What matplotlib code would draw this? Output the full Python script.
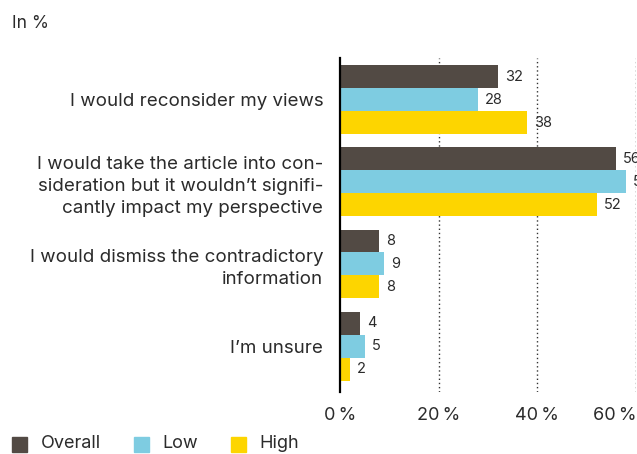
import numpy as np
import matplotlib.pyplot as plt
from matplotlib.patches import Rectangle

plt.rcParams['font.family'] = ['Inter', 'DejaVu Sans']

categories = [
    'I would reconsider my views',
    'I would take the article into con-\nsideration but it wouldn\u2019t signifi-\ncantly impact my perspective',
    'I would dismiss the contradictory\ninformation',
    'I\u2019m unsure',
]
series_names = ['Overall', 'Low', 'High']
overall = [32, 56, 8, 4]
low = [28, 58, 9, 5]
high = [38, 52, 8, 2]
xticks = [0, 20, 40, 60]

colors = ['#524a44', '#7ecce1', '#fdd500']
text_color = '#2b2b2b'

fig = plt.figure(figsize=(6.37, 4.54), dpi=100)
ax = fig.add_axes([340 / 637, 1 - 392 / 454, 296 / 637, (392 - 58) / 454])

y = np.arange(len(categories))
bar_h = 0.28
for i, (vals, c) in enumerate(zip([overall, low, high], colors)):
    ypos = y + (i - 1) * bar_h
    ax.barh(ypos, vals, height=bar_h, color=c, zorder=2)
    for yy, v in zip(ypos, vals):
        ax.text(v + 1.4, yy, str(v), va='center', ha='left', fontsize=10.5,
                color=text_color, clip_on=False)

ax.set_xlim(0, 60)
ax.set_ylim(3.56, -0.51)

for s in ['top', 'right', 'bottom']:
    ax.spines[s].set_visible(False)
ax.spines['left'].set_linewidth(1.6)
ax.spines['left'].set_color('black')
ax.spines['left'].set_zorder(3)

for xv in xticks[1:]:
    ax.axvline(xv, color='#333333', linestyle=(0, (1, 2)), linewidth=1.0, zorder=1)

ax.set_yticks(y)
ax.set_yticklabels(categories, fontsize=13.5, color=text_color, linespacing=1.4)
ax.set_xticks(xticks)
ax.set_xticklabels([f'{t}\u2009%' for t in xticks], fontsize=13, color=text_color)
ax.tick_params(axis='y', length=0, pad=12)
ax.tick_params(axis='x', length=0, pad=11)

# last tick label sits against the right edge
ax.get_xticklabels()[-1].set_ha('right')

fig.text(12 / 637, 1 - 23 / 454, 'In %', fontsize=12.5, color=text_color,
         ha='left', va='center')

# legend along the bottom
leg_items = [(12, 41), (134, 162), (231, 259)]
for (sx, tx), name, c in zip(leg_items, series_names, colors):
    fig.patches.append(Rectangle((sx / 637, 1 - 452 / 454), 15 / 637, 15 / 454,
                                 transform=fig.transFigure, color=c, figure=fig))
    fig.text(tx / 637, 1 - 444 / 454, name, fontsize=13, color=text_color,
             ha='left', va='center')

fig.savefig('out.png', dpi=100)
